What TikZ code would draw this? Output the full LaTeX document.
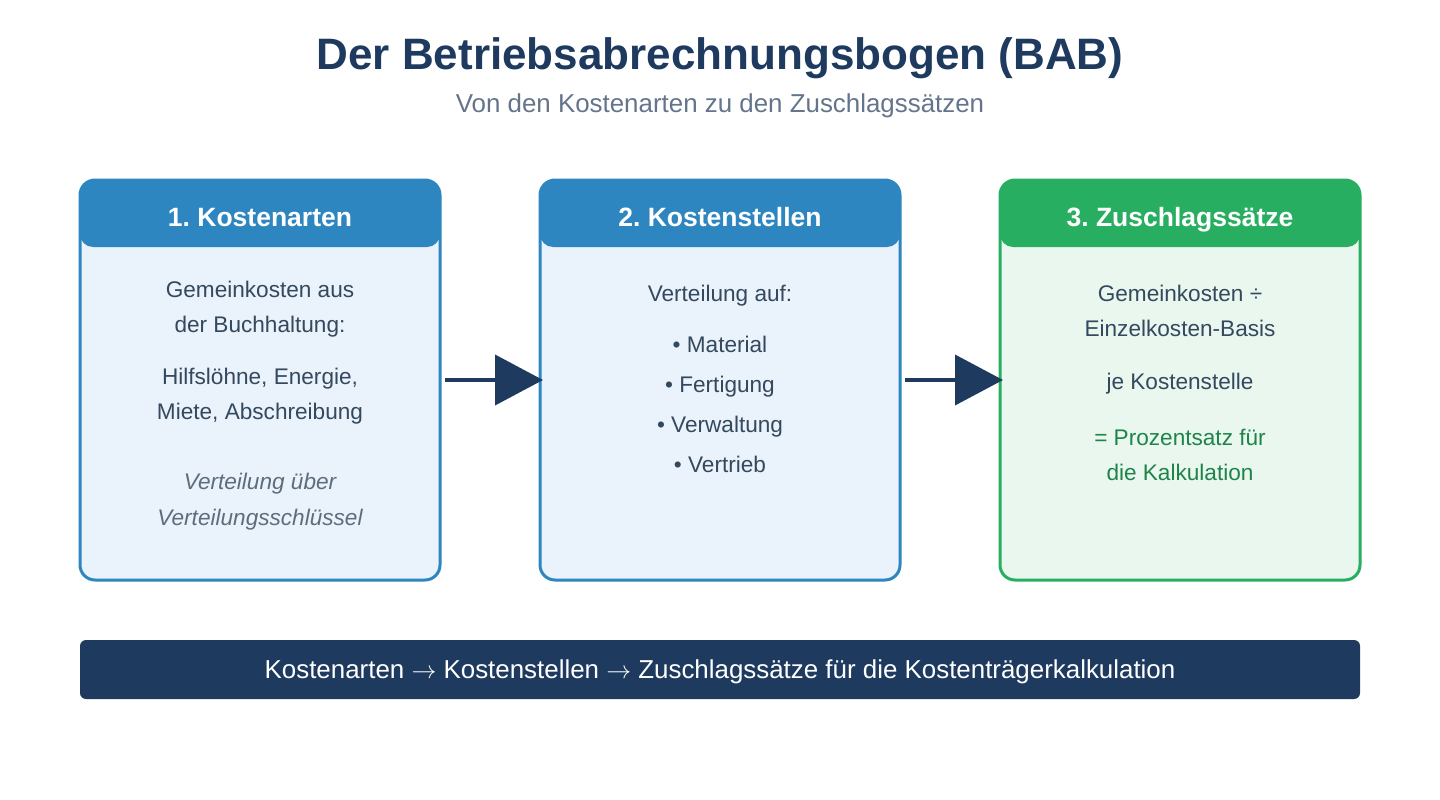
\documentclass[tikz,border=0pt]{standalone}
\usepackage{fontspec}
\setmainfont{Liberation Sans}
\usepackage{xcolor}
\usetikzlibrary{arrows.meta,positioning}

\definecolor{navy}{HTML}{1E3A5F}
\definecolor{stageblue}{HTML}{2E86C1}
\definecolor{stagegreen}{HTML}{27AE60}
\definecolor{bluefill}{HTML}{EAF2FB}
\definecolor{greenfill}{HTML}{E9F7EF}
\definecolor{bodygray}{HTML}{34495E}
\definecolor{notegray}{HTML}{5D6D7E}
\definecolor{subgray}{HTML}{64748B}
\definecolor{resultgreen}{HTML}{1E8449}

\newcommand{\flowsign}{\ensuremath{\rightarrow}}

\begin{document}
\frenchspacing
\begin{tikzpicture}[
  x=1pt, y=-1pt,
  stagebox/.style={line width=3pt, rounded corners=15pt, minimum width=360pt, minimum height=400pt, inner sep=0pt, outer sep=0pt},
  stagehead/.style={rounded corners=13pt, minimum width=360pt, minimum height=67pt, inner sep=0pt, outer sep=0pt, text height=25pt, text depth=0pt, text=white, font=\fontsize{26.5}{30}\selectfont\bfseries},
  bodytext/.style={align=center, text=bodygray, inner sep=0pt, font=\fontsize{22.6}{35}\selectfont},
  notetext/.style={bodytext, text=notegray, font=\fontsize{22.6}{36}\selectfont\itshape},
  listtext/.style={bodytext, font=\fontsize{22.6}{40}\selectfont},
  flowarrow/.style={-{Triangle[length=48pt,width=50pt]}, line width=4pt, navy, shorten <=5pt, shorten >=-3pt},
  summarybar/.style={fill=navy, rounded corners=6pt, minimum width=1280pt, minimum height=59pt, text height=18.5pt, text depth=0pt, text=white, font=\fontsize{25.9}{30}\selectfont}
]
\useasboundingbox (0,0) rectangle (1440,800);

% title
\node[text=navy, font=\fontsize{44}{50}\selectfont\bfseries] (title) at (720,58) {Der Betriebsabrechnungsbogen (BAB)};
\node[text=subgray, font=\fontsize{25.9}{30}\selectfont] (subtitle) at (720,106) {Von den Kostenarten zu den Zuschlagssätzen};

% stage boxes
\node[stagebox, draw=stageblue, fill=bluefill] (kostenarten) at (260,380) {};
\node[stagebox, draw=stageblue, fill=bluefill] (kostenstellen) at (720,380) {};
\node[stagebox, draw=stagegreen, fill=greenfill] (zuschlag) at (1180,380) {};

\node[stagehead, fill=stageblue, anchor=north] (kostenartenhead) at (kostenarten.north) {1. Kostenarten};
\node[stagehead, fill=stageblue, anchor=north] (kostenstellenhead) at (kostenstellen.north) {2. Kostenstellen};
\node[stagehead, fill=stagegreen, anchor=north] (zuschlaghead) at (zuschlag.north) {3. Zuschlagssätze};

% box 1
\node[bodytext] (gemein) at (260,309.5) {Gemeinkosten aus\\der Buchhaltung:};
\node[bodytext] (beispiele) at (260,396.5) {Hilfslöhne, Energie,\\Miete, Abschreibung};
\node[notetext] (schluessel) at (260,502) {Verteilung über\\Verteilungsschlüssel};

% box 2
\node[bodytext] (verteilung) at (720,296) {Verteilung auf:};
\node[listtext] (bereiche) at (720,404) {• Material\\• Fertigung\\• Verwaltung\\• Vertrieb};

% box 3
\node[bodytext] (formel) at (1180,310.5) {Gemeinkosten ÷\\Einzelkosten-Basis};
\node[bodytext] (jestelle) at (1180,384) {je Kostenstelle};
\node[bodytext, text=resultgreen] (prozent) at (1180,455) {= Prozentsatz für\\die Kalkulation};

% flow
\draw[flowarrow] (kostenarten.east) -- (kostenstellen.west);
\draw[flowarrow] (kostenstellen.east) -- (zuschlag.west);

% summary
\node[summarybar] (summary) at (720,669.5) {Kostenarten \flowsign{} Kostenstellen \flowsign{} Zuschlagssätze für die Kostenträgerkalkulation};

\end{tikzpicture}
\end{document}
